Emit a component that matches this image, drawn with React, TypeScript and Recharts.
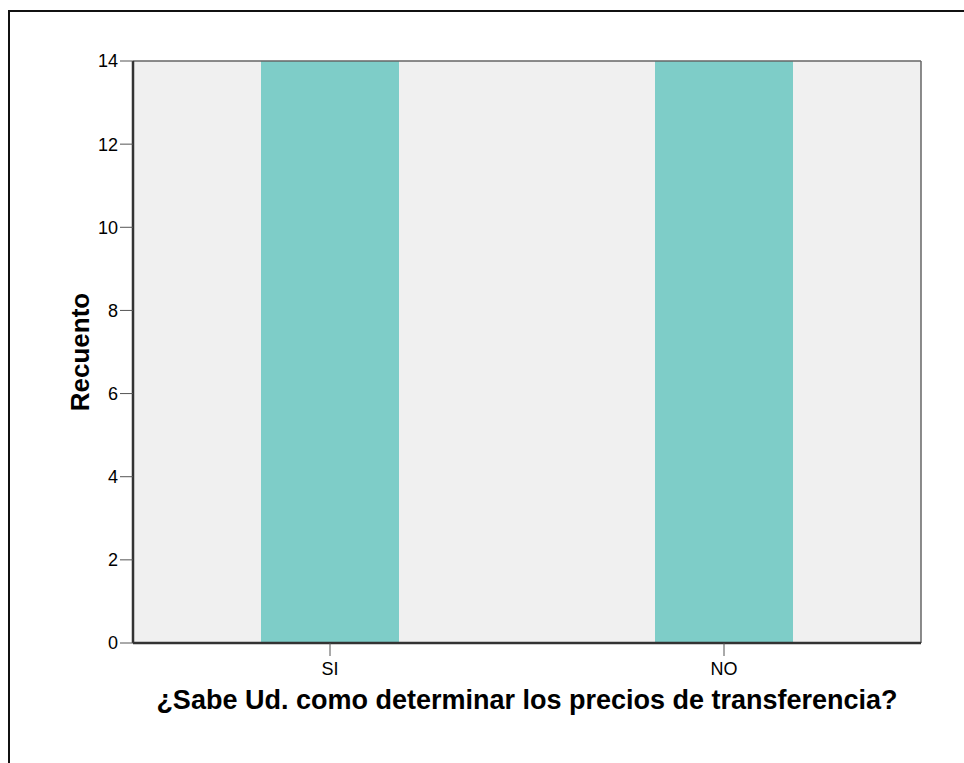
import React from 'react';
import { BarChart, Bar, XAxis, YAxis, CartesianGrid, ReferenceLine } from 'recharts';

const categories = ['SI', 'NO'];
const counts = [14, 14];
const yTicks = [0, 2, 4, 6, 8, 10, 12, 14];

const data = categories.map((c, i) => ({ categoria: c, recuento: counts[i] }));

const font = '"Liberation Sans", Arial, sans-serif';

export default function App() {
  return (
    <div>
      {/* marco exterior, recortado a la derecha y abajo */}
      <div
        style={{
          position: 'absolute',
          left: 8,
          top: 10,
          width: 956,
          height: 753,
          boxSizing: 'border-box',
          borderLeft: '2px solid #111',
          borderTop: '2px solid #111',
        }}
      />
      <div style={{ position: 'absolute', left: 0, top: 0, width: 964, height: 763 }}>
        <BarChart
          width={964}
          height={763}
          data={data}
          margin={{ top: 61, right: 43, bottom: 7, left: 27 }}
        >
          <CartesianGrid fill="#f0f0f0" horizontal={false} vertical={false} />
          <XAxis
            dataKey="categoria"
            height={113}
            tickSize={13}
            tickMargin={6}
            axisLine={{ stroke: '#333', strokeWidth: 2.5 }}
            tickLine={{ stroke: '#555' }}
            tick={{ fill: '#000', fontSize: 18, fontFamily: font }}
            label={{
              value: '¿Sabe Ud. como determinar los precios de transferencia?',
              position: 'center',
              fill: '#000',
              fontSize: 27,
              fontWeight: 'bold',
              fontFamily: font,
            }}
          />
          <YAxis
            width={106}
            domain={[0, 14]}
            ticks={yTicks}
            tickSize={13}
            tickMargin={2}
            axisLine={{ stroke: '#333', strokeWidth: 2.5 }}
            tickLine={{ stroke: '#555' }}
            tick={{ fill: '#000', fontSize: 18, fontFamily: font }}
            label={{
              value: 'Recuento',
              angle: -90,
              position: 'center',
              fill: '#000',
              fontSize: 26,
              fontWeight: 'bold',
              fontFamily: font,
            }}
          />
          <Bar dataKey="recuento" fill="#7ecdc8" barSize={138} isAnimationActive={false} />
          {/* borde superior y derecho del área de trazado */}
          <ReferenceLine y={14} stroke="#666" strokeWidth={1.5} />
          <ReferenceLine x="NO" position="end" stroke="#666" strokeWidth={1.5} />
        </BarChart>
      </div>
    </div>
  );
}
